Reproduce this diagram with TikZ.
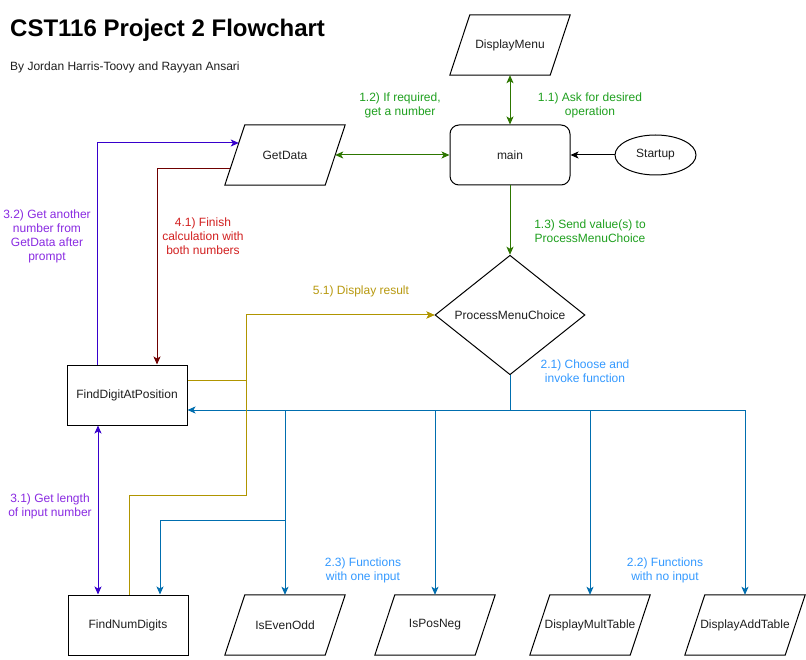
\documentclass[tikz,border=0pt]{standalone}
\usepackage{fontspec}
\setmainfont{Liberation Sans}
\usetikzlibrary{arrows.meta,shapes.geometric,calc}
\definecolor{gline}{HTML}{2D7600}
\definecolor{gtext}{HTML}{1FA01F}
\definecolor{bline}{HTML}{006EAF}
\definecolor{btext}{HTML}{3399FF}
\definecolor{yline}{HTML}{B09500}
\definecolor{ytext}{HTML}{B8990F}
\definecolor{pline}{HTML}{3700CC}
\definecolor{ptext}{HTML}{8A2BE2}
\definecolor{rline}{HTML}{6F0000}
\definecolor{rtext}{HTML}{D21F1F}
\newcommand\paraout[1]{\draw[shapeline] ($(#1.north west)+(20,0)$) -- (#1.north east) -- ($(#1.south east)+(-20,0)$) -- (#1.south west) -- cycle;}
\tikzset{
  txt/.style={font=\fontsize{12}{14}\selectfont, text=black!88},
  shapeline/.style={draw=black, line width=1pt},
  boxnode/.style={txt, shapeline, minimum width=120pt, minimum height=60pt, inner sep=0pt},
  rboxnode/.style={boxnode, rounded corners=9pt},
  paranode/.style={txt, minimum width=120pt, minimum height=60pt, inner sep=0pt},
  ellnode/.style={txt, shapeline, ellipse, minimum width=81pt, minimum height=40pt, inner sep=0pt},
  dianode/.style={txt, shapeline, diamond, minimum width=150pt, minimum height=80pt, inner sep=0pt},
  lab/.style={font=\fontsize{12}{14}\selectfont, align=center, inner sep=0pt},
  conn/.style={line width=1pt, >={Stealth[length=8pt,width=7pt,inset=2pt]}},
}
\begin{document}
\begin{tikzpicture}[x=1pt,y=-1pt]
\fill[white] (0,0) rectangle (806,660);
\useasboundingbox (0,0) rectangle (806,660);

\node[font=\fontsize{24}{28}\selectfont\bfseries, anchor=west, inner sep=0pt] (title) at (10,30) {CST116 Project 2 Flowchart};
\node[font=\fontsize{12}{14}\selectfont, anchor=west, inner sep=0pt, text=black!88] (sub) at (10,67) {By Jordan Harris-Toovy and Rayyan Ansari};

% nodes
\node[paranode] (dm) at (510,45) {DisplayMenu}; \paraout{dm}
\node[rboxnode] (main) at (510,155) {main};
\node[ellnode] (start) at (655.5,155) {Startup};
\node[paranode] (gd) at (285,155) {GetData}; \paraout{gd}
\node[dianode] (pmc) at (510,315) {ProcessMenuChoice};
\node[boxnode] (fdp) at (127,395) {FindDigitAtPosition};
\node[boxnode] (fnd) at (128,625) {FindNumDigits};
\node[paranode] (ieo) at (285,625) {IsEvenOdd}; \paraout{ieo}
\node[paranode] (ipn) at (435,625) {IsPosNeg}; \paraout{ipn}
\node[paranode] (dmt) at (590,625) {DisplayMultTable}; \paraout{dmt}
\node[paranode] (dat) at (745,625) {DisplayAddTable}; \paraout{dat}

% coordinates
\coordinate (b0) at (510,410);
\coordinate (b1) at (285,520);
\coordinate (g1) at (246,315);
\coordinate (g2) at (246,495);

% black
\draw[conn,->] (start.west) -- (main.east);
% green
\draw[conn,gline,<->] (dm.south) -- (main.north);
\draw[conn,gline,<->] ($(gd.east)+(-10,0)$) -- (main.west);
\draw[conn,gline,->] (main.south) -- (pmc.north);
% blue
\draw[conn,bline,->] (pmc.south) -- (b0) -- (fdp.east |- b0);
\draw[conn,bline,->] (pmc.south) -- (b0) -| (ieo.north);
\draw[conn,bline,->] (pmc.south) -- (b0) -| (ipn.north);
\draw[conn,bline,->] (pmc.south) -- (b0) -| (dmt.north);
\draw[conn,bline,->] (pmc.south) -- (b0) -| (dat.north);
\draw[conn,bline,->] (pmc.south) -- (b0) -| (b1) -| ($(fnd.north)+(32,0)$);
% gold
\draw[conn,yline,->] ($(fdp.east)+(0,-15)$) -| (g1) -- (pmc.west);
\draw[conn,yline,->] ($(fnd.north)+(1,0)$) |- (g2) -- (g1) -- (pmc.west);
% purple
\draw[conn,pline,<->] ($(fdp.south)+(-29,0)$) -- ($(fnd.north)+(-30,0)$);
\draw[conn,pline,->] ($(fdp.north)+(-30,0)$) |- ($(gd.west)+(14,-12)$);
% red
\draw[conn,rline,->] ($(gd.west)+(5.3,14)$) -| ($(fdp.north)+(30,0)$);

% labels
\node[lab, text=gtext] (l11) at (590,105.5) {1.1) Ask for desired\\operation};
\node[lab, text=gtext] (l12) at (400,105.5) {1.2) If required,\\get a number};
\node[lab, text=gtext] (l13) at (590,231.5) {1.3) Send value(s) to\\ProcessMenuChoice};
\node[lab, text=btext] (l21) at (585,371) {2.1) Choose and\\invoke function};
\node[lab, text=btext] (l23) at (363,570.5) {2.3) Functions\\with one input};
\node[lab, text=btext] (l22) at (665,570.5) {2.2) Functions\\with no input};
\node[lab, text=ptext] (l32) at (47,236) {3.2) Get another\\number from\\GetData after\\prompt};
\node[lab, text=ptext] (l31) at (50,506) {3.1) Get length\\of input number};
\node[lab, text=rtext] (l41) at (203,236) {4.1) Finish\\calculation with\\both numbers};
\node[lab, text=ytext] (l51) at (361,291) {5.1) Display result};
\end{tikzpicture}
\end{document}
